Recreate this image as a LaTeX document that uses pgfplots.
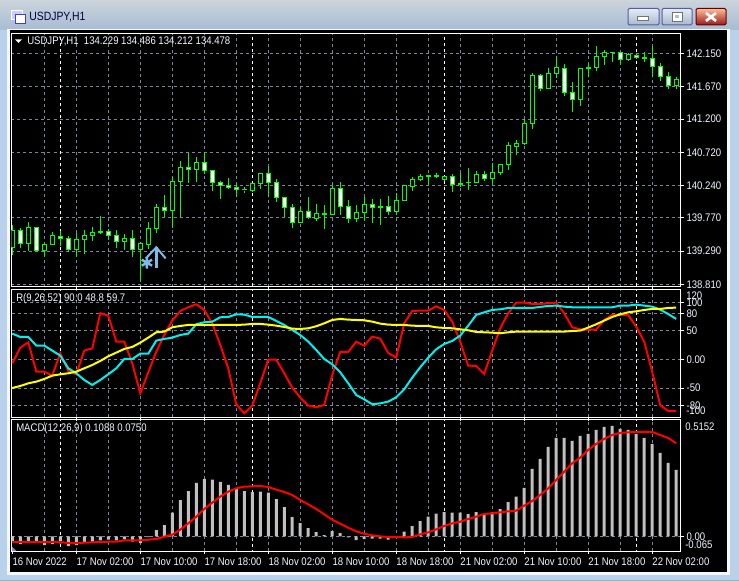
\documentclass[border=0pt]{standalone}
\usepackage{fontspec}
\setmainfont[FakeStretch=0.87]{Liberation Sans}
\usepackage{pgfplots}
\usepackage{pgfplotstable}
\pgfplotsset{compat=1.18}

\definecolor{gridgray}{HTML}{778899}
\definecolor{candle}{HTML}{00FF00}
\definecolor{histgray}{HTML}{C0C0C0}
\definecolor{rsicyan}{HTML}{00F0F0}
\definecolor{rsiyellow}{HTML}{FFFF00}
\definecolor{arrowblue}{HTML}{7DBBEA}
\definecolor{winblue}{HTML}{B9D1EA}
\definecolor{labelwhite}{HTML}{F2F6FF}

\newcommand\tf{\fontsize{8.25}{10}\selectfont}

% one candle: index, open, high, low, close
\newcommand\kbar[6]{\pgfmathsetmacro\xl{#2-0.25}\pgfmathsetmacro\xr{#2+0.25}%
  \addplot[candle, line width=0.75pt] coordinates {(#2,#5) (#2,#4)};
  \addplot[draw=candle, fill=#1, line width=0.75pt] coordinates {(\xl,#3) (\xr,#3) (\xr,#6) (\xl,#6)} --cycle;}
\newcommand\up[5]{\kbar{black}{#1}{#2}{#3}{#4}{#5}}
\newcommand\dn[5]{\kbar{white}{#1}{#2}{#3}{#4}{#5}}
% period separators, one every 24 bars
\newcommand\seps[2]{\addplot[white, line width=0.75pt, dash pattern=on 2.25pt off 2.25pt] coordinates {(6,#1) (6,#2)};
  \addplot[white, line width=0.75pt, dash pattern=on 2.25pt off 2.25pt] coordinates {(30,#1) (30,#2)};
  \addplot[white, line width=0.75pt, dash pattern=on 2.25pt off 2.25pt] coordinates {(54,#1) (54,#2)};
  \addplot[white, line width=0.75pt, dash pattern=on 2.25pt off 2.25pt] coordinates {(78,#1) (78,#2)};}

\pgfplotsset{panel/.style={
  anchor=north west, scale only axis, width=502.1pt,
  xmin=-0.1, xmax=83.6,
  xtick={8,16,...,80}, minor xtick={4,12,...,76},
  xticklabels={},
  grid=both,
  major grid style={gridgray, line width=0.75pt, dash pattern=on 2.25pt off 2.25pt},
  minor grid style={gridgray, line width=0.75pt, dash pattern=on 2.25pt off 2.25pt},
  axis line style={white, line width=0.75pt},
  tick style={white, line width=0.75pt},
  tick align=outside, major tick length=2.5pt, minor tick length=0pt,
  xtick pos=bottom, ytick pos=right, yticklabel pos=right,
  ticklabel style={text=labelwhite, font=\tf},
  yticklabel style={anchor=west, inner xsep=0pt, xshift=1.5pt},
}}

\pgfplotstableread{
i red cyan yellow
0 -6.6 45.3 -49.7
1 20.8 39.4 -46.2
2 30.1 39.4 -41.5
3 -21.1 24.3 -38.6
4 -21.1 24.3 -33.9
5 -28.1 15.6 -28.1
6 10.9 6.8 -25.8
7 -20.0 -15.3 -24.0
8 -25.8 -24.0 -21.1
9 15.6 -35.7 -15.3
10 19.6 -44.4 -9.5
11 80.8 -35.7 -2.5
12 76.7 -25.8 5.7
13 31.3 -15.3 12.1
14 31.3 1.0 18.5
15 -6.6 1.0 22.0
16 -59.0 10.3 29.5
17 -22.3 10.3 38.3
18 13.8 33.0 47.6
19 42.9 36.0 48.8
20 68.0 38.3 56.3
21 84.9 42.9 58.7
22 91.3 45.3 60.4
23 96.5 61.6 60.4
24 86.6 65.1 60.4
25 63.3 66.2 60.4
26 25.5 73.8 60.4
27 -15.3 74.4 60.4
28 -78.2 79.0 60.4
29 -93.9 78.5 61.0
30 -80.5 74.4 62.2
31 -41.5 74.4 62.2
32 -0.2 74.4 61.0
33 -0.2 67.4 59.2
34 -24.0 60.4 56.9
35 -49.1 51.7 54.0
36 -66.6 42.9 53.4
37 -80.5 31.3 54.6
38 -83.4 16.7 58.1
39 -79.4 1.0 63.3
40 -26.9 -8.3 69.1
41 13.2 -22.3 70.9
42 13.2 -41.5 69.7
43 31.3 -61.9 69.1
44 24.3 -69.5 68.6
45 40.0 -78.2 66.2
46 36.5 -76.5 62.7
47 11.5 -73.5 61.0
48 3.3 -66.0 60.4
49 63.3 -52.0 60.4
50 84.9 -31.6 59.2
51 85.5 -13.6 58.7
52 85.5 3.3 58.7
53 93.0 17.9 56.3
54 86.6 27.2 55.2
55 66.2 32.5 54.6
56 31.3 41.8 52.8
57 -10.6 59.2 51.1
58 -11.2 77.9 48.2
59 -25.2 82.5 47.6
60 15.6 86.6 47.0
61 54.6 87.8 45.9
62 80.8 90.1 47.6
63 99.4 90.1 48.8
64 99.4 90.1 48.8
65 97.1 90.1 48.8
66 97.1 91.9 48.8
67 98.3 93.6 48.8
68 99.4 94.2 48.8
69 80.8 92.4 48.8
70 56.3 91.3 49.9
71 52.8 91.3 50.5
72 52.3 91.3 55.8
73 52.3 91.3 61.6
74 69.1 91.3 68.0
75 77.9 91.3 74.4
76 77.9 94.2 79.0
77 77.9 94.2 82.5
78 57.5 95.9 84.3
79 31.3 94.2 86.6
80 -21.1 92.4 88.4
81 -79.4 87.2 88.4
82 -89.8 79.6 90.1
83 -89.8 70.9 90.7
}\rsitable

\pgfplotstableread{
i hist signal
0 -0.0206 -0.0250
1 -0.0338 -0.0250
2 -0.0294 -0.0250
3 -0.0294 -0.0250
4 -0.0382 -0.0250
5 -0.0338 -0.0250
6 -0.0308 -0.0250
7 -0.0426 -0.0294
8 -0.0382 -0.0294
9 -0.0279 -0.0279
10 -0.0235 -0.0264
11 -0.0176 -0.0250
12 -0.0147 -0.0235
13 -0.0176 -0.0235
14 -0.0132 -0.0176
15 -0.0235 -0.0176
16 -0.0294 -0.0176
17 -0.0029 -0.0147
18 0.0279 -0.0117
19 0.0499 -0.0015
20 0.1042 0.0073
21 0.1600 0.0294
22 0.1996 0.0573
23 0.2349 0.0866
24 0.2525 0.1204
25 0.2496 0.1483
26 0.2393 0.1747
27 0.2261 0.1967
28 0.2114 0.2114
29 0.1996 0.2187
30 0.1952 0.2202
31 0.1967 0.2217
32 0.1923 0.2173
33 0.1644 0.2055
34 0.1292 0.1952
35 0.0851 0.1820
36 0.0587 0.1600
37 0.0367 0.1409
38 0.0191 0.1204
39 0.0059 0.0969
40 0.0235 0.0734
41 0.0147 0.0558
42 -0.0044 0.0382
43 -0.0161 0.0220
44 -0.0117 0.0117
45 -0.0103 0.0044
46 -0.0103 0.0000
47 -0.0147 -0.0029
48 0.0000 -0.0029
49 0.0206 -0.0044
50 0.0455 -0.0029
51 0.0675 0.0088
52 0.0866 0.0176
53 0.0998 0.0308
54 0.1072 0.0455
55 0.1042 0.0573
56 0.1042 0.0646
57 0.0984 0.0763
58 0.1072 0.0866
59 0.0984 0.0984
60 0.1057 0.1013
61 0.1204 0.1057
62 0.1512 0.1101
63 0.1747 0.1130
64 0.2129 0.1351
65 0.2965 0.1556
66 0.3406 0.1820
67 0.3934 0.2114
68 0.4331 0.2481
69 0.4331 0.2848
70 0.4198 0.3215
71 0.4419 0.3464
72 0.4507 0.3802
73 0.4683 0.4066
74 0.4815 0.4287
75 0.4859 0.4463
76 0.4727 0.4551
77 0.4683 0.4580
78 0.4507 0.4595
79 0.4331 0.4595
80 0.4066 0.4595
81 0.3670 0.4463
82 0.3230 0.4331
83 0.2921 0.4096
}\macdtable

\begin{document}
\begin{tikzpicture}
% window frame, in reference pixels
\begin{scope}[x=0.75pt, y=-0.75pt]
\useasboundingbox (0,0) rectangle (739,581);
\fill[winblue] (0,0) rectangle (739,581);
\shade[top color=winblue!60!gray!55!white, bottom color=winblue!90!black] (0,0) rectangle (739,30);
\fill[white!85!winblue] (7,29) rectangle (730,575);
\fill[black] (9.5,30.5) rectangle (727,572);
\fill[teal!45!cyan!70!white] (0,579.5) rectangle (739,581);
\end{scope}

% price panel
\begin{axis}[panel, at={(8.625pt,-24.975pt)}, height=190.05pt,
  ymin=138.776, ymax=142.439,
  ytick={138.81,139.29,139.77,140.24,140.72,141.2,141.67,142.15},
  yticklabels={138.810,139.290,139.770,140.240,140.720,141.200,141.670,142.150}]
\seps{138.7}{142.5}
\up{0}{139.345}{139.668}{139.234}{139.595}
\dn{1}{139.586}{139.619}{139.330}{139.402}
\up{2}{139.402}{139.706}{139.296}{139.634}
\dn{3}{139.634}{139.643}{139.296}{139.296}
\up{4}{139.296}{139.412}{139.210}{139.388}
\up{5}{139.388}{139.561}{139.378}{139.513}
\dn{6}{139.504}{139.586}{139.364}{139.475}
\dn{7}{139.470}{139.513}{139.282}{139.316}
\up{8}{139.316}{139.557}{139.200}{139.455}
\up{9}{139.460}{139.595}{139.248}{139.518}
\up{10}{139.518}{139.643}{139.441}{139.557}
\dn{11}{139.576}{139.798}{139.537}{139.557}
\dn{12}{139.571}{139.605}{139.451}{139.518}
\dn{13}{139.513}{139.595}{139.335}{139.431}
\up{14}{139.436}{139.537}{139.306}{139.475}
\dn{15}{139.470}{139.595}{139.200}{139.316}
\up{16}{139.316}{139.426}{138.848}{139.402}
\up{17}{139.388}{139.711}{139.316}{139.614}
\up{18}{139.619}{139.971}{139.557}{139.923}
\dn{19}{139.918}{140.101}{139.778}{139.880}
\up{20}{139.880}{140.366}{139.629}{140.294}
\up{21}{140.294}{140.588}{139.788}{140.501}
\dn{22}{140.501}{140.704}{140.280}{140.472}
\up{23}{140.472}{140.646}{140.294}{140.574}
\dn{24}{140.569}{140.728}{140.405}{140.458}
\dn{25}{140.453}{140.463}{140.159}{140.284}
\dn{26}{140.284}{140.304}{140.043}{140.246}
\dn{27}{140.236}{140.352}{140.193}{140.207}
\dn{28}{140.212}{140.270}{140.077}{140.183}
\up{29}{140.174}{140.222}{140.135}{140.178}
\up{30}{140.164}{140.279}{140.149}{140.265}
\up{31}{140.265}{140.424}{140.193}{140.414}
\dn{32}{140.410}{140.501}{140.067}{140.284}
\dn{33}{140.279}{140.328}{140.005}{140.067}
\dn{34}{140.063}{140.067}{139.783}{139.923}
\dn{35}{139.918}{139.971}{139.629}{139.706}
\up{36}{139.706}{139.932}{139.701}{139.860}
\dn{37}{139.860}{140.067}{139.759}{139.783}
\up{38}{139.769}{139.971}{139.730}{139.831}
\dn{39}{139.836}{139.952}{139.614}{139.822}
\up{40}{139.822}{140.241}{139.812}{140.193}
\dn{41}{140.193}{140.284}{139.812}{139.937}
\dn{42}{139.932}{140.029}{139.701}{139.764}
\up{43}{139.759}{139.952}{139.715}{139.850}
\up{44}{139.850}{140.067}{139.720}{139.961}
\dn{45}{139.961}{140.038}{139.701}{139.923}
\dn{46}{139.932}{140.043}{139.667}{139.923}
\dn{47}{139.932}{140.087}{139.817}{139.865}
\up{48}{139.865}{140.125}{139.812}{140.019}
\up{49}{140.019}{140.241}{140.010}{140.236}
\up{50}{140.222}{140.357}{140.164}{140.328}
\up{51}{140.328}{140.400}{140.308}{140.371}
\dn{52}{140.385}{140.385}{140.251}{140.371}
\dn{53}{140.385}{140.414}{140.347}{140.371}
\up{54}{140.328}{140.376}{140.308}{140.366}
\dn{55}{140.366}{140.405}{140.144}{140.251}
\dn{56}{140.265}{140.424}{140.212}{140.251}
\up{57}{140.279}{140.492}{140.173}{140.284}
\up{58}{140.284}{140.443}{140.279}{140.400}
\dn{59}{140.400}{140.448}{140.308}{140.342}
\up{60}{140.342}{140.559}{140.260}{140.429}
\up{61}{140.429}{140.550}{140.395}{140.540}
\up{62}{140.540}{140.868}{140.463}{140.819}
\up{63}{140.800}{140.897}{140.685}{140.844}
\up{64}{140.844}{141.195}{140.824}{141.133}
\up{65}{141.133}{141.861}{141.056}{141.832}
\dn{66}{141.832}{141.851}{141.610}{141.639}
\up{67}{141.639}{141.933}{141.639}{141.861}
\up{68}{141.861}{142.092}{141.788}{141.947}
\dn{69}{141.933}{141.996}{141.538}{141.586}
\dn{70}{141.586}{141.740}{141.306}{141.485}
\up{71}{141.485}{141.933}{141.388}{141.933}
\dn{72}{141.947}{142.005}{141.803}{141.928}
\up{73}{141.947}{142.256}{141.890}{142.102}
\up{74}{142.102}{142.198}{141.981}{142.159}
\dn{75}{142.164}{142.169}{142.024}{142.159}
\dn{76}{142.159}{142.174}{141.976}{142.063}
\up{77}{142.063}{142.150}{142.044}{142.135}
\dn{78}{142.116}{142.135}{142.068}{142.092}
\dn{79}{142.092}{142.169}{142.024}{142.073}
\dn{80}{142.073}{142.256}{141.803}{141.962}
\dn{81}{141.962}{142.005}{141.755}{141.817}
\dn{82}{141.812}{141.880}{141.629}{141.687}
\up{83}{141.682}{141.803}{141.639}{141.774}
% signal objects
\addplot[arrowblue, line width=2.25pt] coordinates {(18,139.041) (18,139.345)};
\addplot[arrowblue, line width=1.5pt] coordinates {(16.7,139.185) (18,139.345) (19.17,139.185)};
\addplot[only marks, arrowblue, mark=asterisk, mark size=4.5pt, mark options={line width=1.8pt}] coordinates {(16.83,139.123)};
\end{axis}

% oscillator panel
\begin{axis}[panel, at={(8.625pt,-216.975pt)}, height=96pt,
  ymin=-100.9, ymax=122.7,
  ytick={-80,-50,0,50,80,100},
  yticklabels={-80,-50,0.00,50,80,100}]
\seps{-110}{130}
\addplot[red, line width=1.5pt] table[x=i, y=red] {\rsitable};
\addplot[rsicyan, line width=1.5pt] table[x=i, y=cyan] {\rsitable};
\addplot[rsiyellow, line width=1.5pt] table[x=i, y=yellow] {\rsitable};
\end{axis}

% MACD panel
\begin{axis}[panel, at={(8.625pt,-314.475pt)}, height=98.8pt,
  ymin=-0.0646, ymax=0.5152,
  ytick={0}, yticklabels={0.00},
  xticklabels={17 Nov 02:00,17 Nov 10:00,17 Nov 18:00,18 Nov 02:00,18 Nov 10:00,18 Nov 18:00,21 Nov 02:00,21 Nov 10:00,21 Nov 18:00,22 Nov 02:00},
  extra x ticks={0}, extra x tick labels={16 Nov 2022},
  extra tick style={grid=none},
  xticklabel style={anchor=north west, inner xsep=0pt, yshift=1pt}]
\seps{-0.1}{0.6}
\addplot[ybar, bar width=2.25pt, bar shift=0pt, fill=histgray, draw=none] table[x=i, y=hist] {\macdtable};
\addplot[red, line width=1.5pt] table[x=i, y=signal] {\macdtable};
\end{axis}

\begin{scope}[x=0.75pt, y=-0.75pt]
% captions and squeezed scale labels
\node[anchor=west, inner sep=0pt, text=labelwhite, font=\tf] at (27,41.3) {USDJPY,H1\ \ 134.229 134.486 134.212 134.478};
\fill[white] (15,39.5) -- (22,39.5) -- (18.5,43) -- cycle;
\node[anchor=west, inner sep=0pt, text=labelwhite, font=\tf] at (16,298.7) {R(9,26,52) 90.0 48.8 59.7};
\node[anchor=west, inner sep=0pt, text=labelwhite, font=\tf] at (16,428.3) {MACD(12,26,9) 0.1088 0.0750};
\node[anchor=west, inner sep=0pt, text=labelwhite, font=\tf] at (686,296) {120};
\node[anchor=west, inner sep=0pt, text=labelwhite, font=\tf] at (686,411) {-100};
\node[anchor=west, inner sep=0pt, text=labelwhite, font=\tf] at (685,426.3) {0.5152};
\node[anchor=west, inner sep=0pt, text=labelwhite, font=\tf] at (685,544.5) {-0.065};
\fill[gray!70!blue!70!white] (12,551) -- (12,546.5) -- (16.5,551) -- cycle;

% title bar
\node[anchor=west, inner sep=0pt, text=black!75!blue, font=\fontsize{9}{11}\selectfont] at (29,17) {USDJPY,H1};
\draw[white, fill=blue!20!white, line width=0.75pt] (11,11) rectangle (22,20);
\draw[blue!50!gray, fill=white, line width=0.75pt] (15,15) rectangle (25,24);
\draw[rounded corners=1pt, gray!70!blue, top color=white!60!winblue, bottom color=winblue!70!gray, line width=0.75pt] (628,8.5) rectangle (659,25);
\draw[rounded corners=1pt, gray!70!blue, top color=white!60!winblue, bottom color=winblue!70!gray, line width=0.75pt] (662,8.5) rectangle (692,25);
\draw[rounded corners=1pt, red!40!black, top color=red!30!orange!40!white, bottom color=red!55!black!90!white, line width=0.75pt] (696,8.5) rectangle (726,25);
\draw[black!55, fill=white, line width=0.5pt] (637,16) rectangle (648,20);
\draw[black!55, fill=white, line width=0.5pt] (672,12.5) rectangle (682,21);
\fill[winblue!80!gray] (675,15.5) rectangle (679,18);
\draw[white, line width=2pt] (706,13) -- (716,21) (716,13) -- (706,21);
\end{scope}
\end{tikzpicture}
\end{document}
